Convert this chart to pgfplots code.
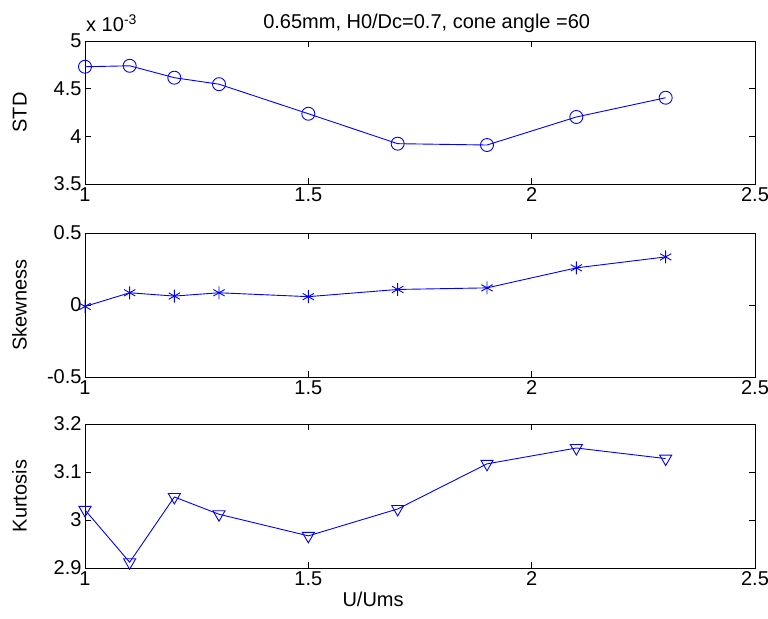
\documentclass[border=0pt]{standalone}
\usepackage{pgfplots}
\pgfplotsset{compat=1.18}
\usepackage{fontspec}
\setmainfont{Liberation Sans}
\definecolor{mblue}{RGB}{0,0,255}
\pgfplotsset{
  mstyle/.style={
    scale only axis, width=670bp, clip=false,
    xmin=1, xmax=2.5, xtick={1,1.5,2,2.5},
    tick align=inside, major tick length=6bp,
    axis line style={line width=0.8bp},
    every tick/.style={black, line width=0.8bp},
    /pgf/number format/assume math mode=true,
    yticklabel style={/pgf/number format/fixed},
    xticklabel style={/pgf/number format/fixed},
    every axis y label/.style={at={(axis description cs:-0.0873,0.5)}, anchor=base, rotate=90},
  },
  dstyle/.style={color=mblue, line width=0.9bp, mark options={solid, draw=mblue, fill=none, line width=0.9bp}},
}
\pgfplotstableread{
x std skew kurt
1.0 4.730 -0.010 3.021
1.1 4.740 0.085 2.912
1.2 4.615 0.062 3.048
1.3 4.547 0.085 3.012
1.5 4.237 0.058 2.967
1.7 3.923 0.108 3.023
1.9 3.909 0.119 3.117
2.1 4.203 0.258 3.150
2.3 4.405 0.334 3.128
}\datatable
\begin{document}
\begin{tikzpicture}[font=\fontsize{20bp}{24bp}\selectfont]
\path[use as bounding box] (0,0) rectangle (768bp,-619bp);
\begin{axis}[mstyle, at={(85bp,-41bp)}, anchor=north west, height=143bp,
  ymin=3.5, ymax=5, ytick={3.5,4,4.5,5}, ylabel={STD},
  title={0.65mm, H0/Dc=0.7, cone angle =60},
  title style={at={(axis description cs:0.51,1)}, anchor=base, yshift=7bp, inner sep=0pt}]
\addplot[dstyle, mark=o, mark size=6.5bp] table[x=x, y=std] {\datatable};
\end{axis}
\node[anchor=base west, inner sep=0pt] at (86bp,-31.5bp) {x 10\textsuperscript{-3}};
\begin{axis}[mstyle, at={(85bp,-233bp)}, anchor=north west, height=144bp,
  ymin=-0.5, ymax=0.5, ytick={-0.5,0,0.5}, ylabel={Skewness}]
\addplot[dstyle, mark=asterisk, mark size=6.5bp] table[x=x, y=skew] {\datatable};
\end{axis}
\begin{axis}[mstyle, at={(85bp,-424bp)}, anchor=north west, height=144bp,
  ymin=2.9, ymax=3.2, ytick={2.9,3,3.1,3.2}, ylabel={Kurtosis},
  xlabel={U/Ums},
  xlabel style={at={(axis description cs:0.43,0)}, anchor=base, yshift=-38bp}]
\addplot[dstyle, mark=triangle, mark size=7bp, mark options={rotate=180}] table[x=x, y=kurt] {\datatable};
\end{axis}
\end{tikzpicture}
\end{document}
